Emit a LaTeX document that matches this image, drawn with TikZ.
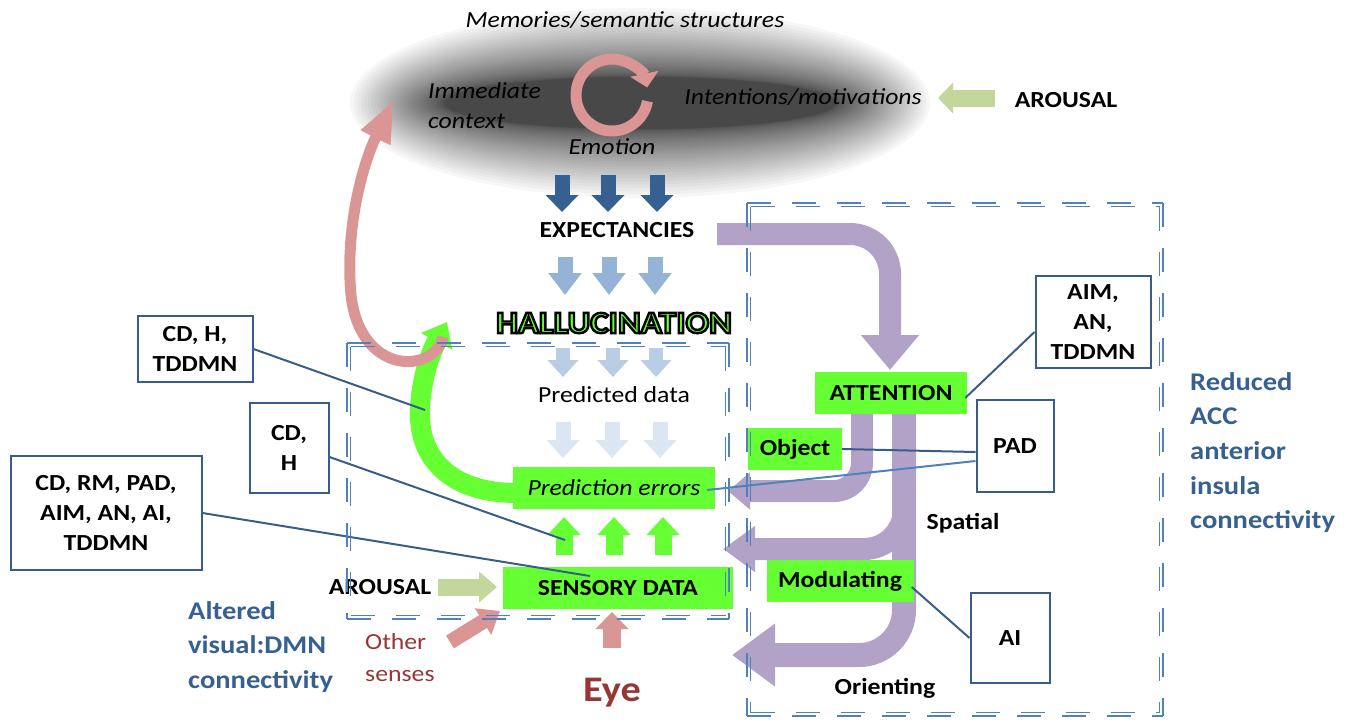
\documentclass[tikz,border=0pt]{standalone}
\usepackage{fontspec}
\setmainfont{Carlito}[FakeStretch=1.12]
\usetikzlibrary{arrows.meta, calc}

\definecolor{boxgreen}{RGB}{102,255,51}
\definecolor{pinkarr}{RGB}{217,150,148}
\definecolor{purparr}{RGB}{179,162,199}
\definecolor{navyarr}{RGB}{54,96,146}
\definecolor{bluearr}{RGB}{149,179,215}
\definecolor{paleblue}{RGB}{185,205,229}
\definecolor{palerblue}{RGB}{220,230,242}
\definecolor{olivearr}{RGB}{195,214,155}
\definecolor{framecol}{RGB}{56,93,138}
\definecolor{dashcol}{RGB}{79,129,189}
\definecolor{darkred}{RGB}{149,55,53}
\definecolor{labelblue}{RGB}{54,96,146}

\tikzset{
  lbl/.style={font=\fontsize{23}{30}\selectfont\bfseries, align=center, inner sep=0pt},
  itl/.style={font=\fontsize{23}{30}\selectfont\itshape, align=center, inner sep=0pt},
  bluelbl/.style={font=\fontsize{25.5}{34.7}\selectfont\bfseries, text=labelblue, align=left, inner sep=0pt},
  halo/.style={font=\fontsize{31}{34}\selectfont\bfseries, inner sep=0pt},
  greenbox/.style={fill=boxgreen, font=\fontsize{23}{26}\selectfont\bfseries, inner sep=0pt, minimum height=42pt},
  whitebox/.style={draw=framecol, line width=2pt, fill=white, font=\fontsize{23}{30}\selectfont\bfseries, align=center, inner sep=0pt},
  link/.style={draw=framecol, line width=2pt},
  dashline/.style={draw=dashcol, line width=1.3pt, dash pattern=on 24pt off 21pt},
  blockarrow/.style n args={4}{draw=#4, line width=#1, -{Triangle[width=#2,length=#3]}},
}

% outlined letters (fill, then black stroke)
\newcommand\outlined[1]{\special{pdf:literal direct 2 Tr 2.4 w 0 0 0 RG}#1\special{pdf:literal direct 0 Tr}}

% double dashed frame: x1 y1 x2 y2
\newcommand\dashframe[4]{%
  \foreach \o in {0,3.5}{
    \draw[dashline] (#1+\o,#2+\o) -- (#3-\o,#2+\o);
    \draw[dashline] (#3-\o,#2+\o) -- (#3-\o,#4-\o);
    \draw[dashline] (#1+\o,#4-\o) -- (#3-\o,#4-\o);
    \draw[dashline] (#1+\o,#2+\o) -- (#1+\o,#4-\o);
  }}

\begin{document}
\begin{tikzpicture}[x=1pt, y=-1pt]
  \useasboundingbox (0,0) rectangle (1351,721);

  % memory cloud
  \foreach \i in {0,...,39}{
    \pgfmathsetmacro\rx{195+95*(1-\i/39)^1.5}
    \pgfmathsetmacro\ry{26+69*(1-\i/39)^2}
    \fill[black, opacity=0.03] (640,103) ellipse [x radius=\rx, y radius=\ry];
  }
  \node[itl] (memo) at (625,20) {Memories/semantic structures};
  \node[itl, align=left, anchor=north west] (context) at (428,82) {Immediate\\context};
  \node[itl] (intent) at (803,97) {Intentions/motivations};
  \node[itl] (emotion) at (612,147) {Emotion};
  \node[lbl] (arousaltop) at (1066,100) {AROUSAL};
  \draw[blockarrow={11pt}{28pt}{14pt}{pinkarr}] (612,95) ++(10:36) arc[start angle=10, end angle=348, radius=36];
  \draw[blockarrow={17pt}{30pt}{15pt}{olivearr}] (995,98) -- (938,98);

  % expectancies column
  \foreach \xa in {562,608,657}
    \draw[blockarrow={15pt}{32pt}{17pt}{navyarr}] (\xa,175) -- (\xa,212);
  \node[lbl] (expect) at (617,230) {EXPECTANCIES};
  \foreach \xa in {565,609,655}
    \draw[blockarrow={15pt}{32pt}{22pt}{bluearr}] (\xa,257) -- (\xa,295);
  \node[halo, text=boxgreen] (halluc) at (614,323) {\outlined{HALLUCINATION}};
  \foreach \xa in {563,613,656}
    \draw[blockarrow={14pt}{30pt}{17pt}{paleblue}] (\xa,348) -- (\xa,377);
  \node[font=\fontsize{23}{26}\selectfont, inner sep=0pt] (pred) at (614,395) {Predicted data};
  \foreach \xa in {563,612,660}
    \draw[blockarrow={15pt}{32pt}{18pt}{palerblue}] (\xa,422) -- (\xa,458);

  % feedback loops
  \draw[draw=boxgreen, line width=20pt, -{Triangle[width=34pt,length=22pt]}]
    (516,493) .. controls (455,493) and (418,462) .. (420,410) .. controls (421,376) and (432,350) .. (447,322);
  \draw[draw=pinkarr, line width=11pt, -{Triangle[width=30pt,length=42pt]}]
    (443,337) .. controls (434,374) and (360,376) .. (351,295) .. controls (345,230) and (362,165) .. (394,100);

  % attention pathways
  \draw[blockarrow={22pt}{56pt}{35pt}{purparr}, rounded corners=40pt] (717,234) -- (890,234) -- (890,370);
  \draw[blockarrow={22pt}{36pt}{22pt}{purparr}, rounded corners=28pt] (862,410) -- (862,491) -- (728,491);
  \draw[blockarrow={24pt}{60pt}{43pt}{purparr}, rounded corners=45pt] (904,410) -- (904,655) -- (732,655);
  \draw[blockarrow={22pt}{44pt}{32pt}{purparr}, rounded corners=40pt] (904,470) -- (904,549) -- (723,549);

  % green boxes
  \node[greenbox, minimum width=152pt] (attn) at (891,393) {ATTENTION};
  \node[greenbox, minimum width=94pt] (obj) at (795,449) {Object};
  \node[greenbox, minimum width=147pt] (modul) at (840,581) {Modulating};
  \node[greenbox, minimum width=202pt, font=\fontsize{23}{26}\selectfont\itshape] (perr) at (614,488) {Prediction errors};
  \node[greenbox, minimum width=230pt] (sens) at (618,588) {SENSORY DATA};
  \foreach \xa in {564,614,663}
    \draw[blockarrow={17pt}{32pt}{18pt}{boxgreen}] (\xa,555) -- (\xa,517);

  % white boxes
  \node[whitebox, minimum width=115pt, minimum height=92pt] (aim) at (1093,322) {AIM,\\AN,\\TDDMN};
  \node[whitebox, minimum width=77pt, minimum height=92pt] (pad) at (1015,446) {PAD};
  \node[whitebox, minimum width=79pt, minimum height=90pt] (ai) at (1010,638) {AI};
  \node[whitebox, minimum width=115pt, minimum height=66pt] (cdht) at (195,349) {CD, H,\\TDDMN};
  \node[whitebox, minimum width=79pt, minimum height=90pt] (cdh) at (289,448) {CD,\\H};
  \node[whitebox, minimum width=191pt, minimum height=114pt] (cdall) at (106,513) {CD, RM, PAD,\\AIM, AN, AI,\\TDDMN};

  % connectors
  \coordinate (gmid) at (425,410);
  \coordinate (upl) at (565,540);
  \coordinate (sensin) at (590,576);
  \draw[link] ([yshift=-10pt]aim.west) -- ([xshift=-2pt,yshift=-5pt]attn.east);
  \draw[link] (obj.east) -- ([yshift=-6pt]pad.west);
  \draw[draw=dashcol, line width=2pt] ([yshift=-15pt]pad.west) -- ([xshift=-8pt,yshift=-2pt]perr.east);
  \draw[link] ([xshift=-2pt,yshift=-6pt]modul.east) -- (ai.west);
  \draw[link] (cdht.east) -- (gmid);
  \draw[link] ([yshift=-9pt]cdh.east) -- (upl);
  \draw[link] (cdall.east) -- (sensin);

  % sensory inputs
  \node[lbl] (arousalbot) at (380,587) {AROUSAL};
  \draw[blockarrow={17pt}{30pt}{18pt}{olivearr}] (438,587) -- (497,587);
  \node[font=\fontsize{23}{32}\selectfont, text=darkred, align=left, inner sep=0pt, anchor=north west] (others) at (365,633) {Other\\senses};
  \draw[blockarrow={15pt}{30pt}{20pt}{pinkarr}] (450,642) -- (500,611);
  \draw[blockarrow={18pt}{32pt}{17pt}{pinkarr}] (612,648) -- (612,612);
  \node[font=\fontsize{36}{40}\selectfont\bfseries, text=darkred, inner sep=0pt] (eye) at (612,693) {Eye};

  \node[font=\fontsize{23}{26}\selectfont\bfseries, inner sep=0pt] (spatial) at (963,523) {Spatial};
  \node[font=\fontsize{23}{26}\selectfont\bfseries, inner sep=0pt] (orient) at (885,688) {Orienting};

  % network frames
  \dashframe{347}{343}{729}{619}
  \dashframe{747}{203}{1163}{716}

  \node[bluelbl, anchor=north west] (reduced) at (1190,372) {Reduced\\ACC\\anterior\\insula\\connectivity};
  \node[bluelbl, anchor=north west] (altered) at (188,601) {Altered\\visual:DMN\\connectivity};
\end{tikzpicture}
\end{document}
